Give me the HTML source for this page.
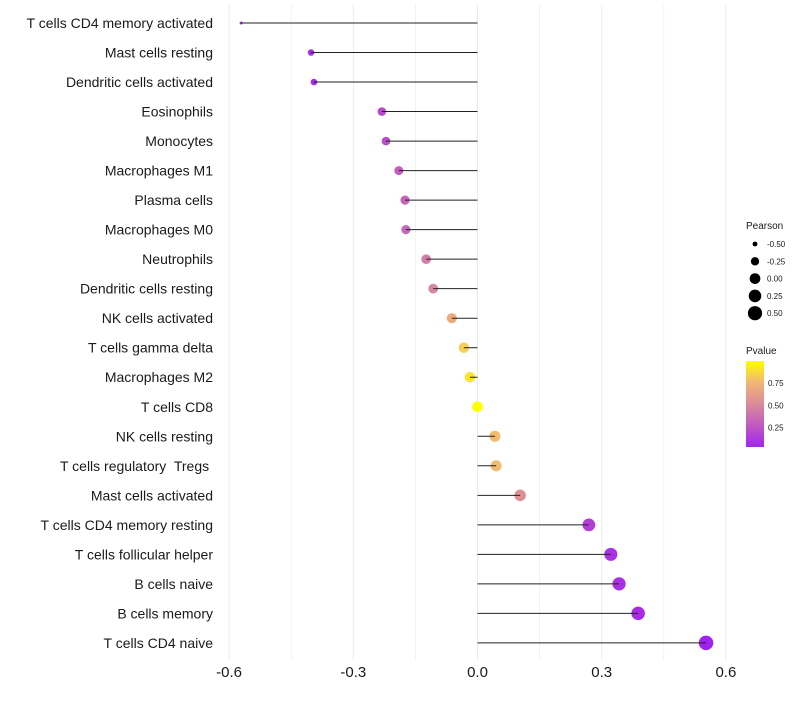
<!DOCTYPE html>
<html><head><meta charset="utf-8"><style>
body{margin:0;background:#fff;font-family:"Liberation Sans",sans-serif}
text{white-space:pre}
</style></head><body>
<svg id="chart" width="800" height="700" xmlns="http://www.w3.org/2000/svg">
<g id="grid"></g><g id="points"></g><g id="marks"></g><g id="ylabels"></g><g id="xlabels"></g><g id="legend"></g>
</svg>
<script>
const categories=["T cells CD4 memory activated","Mast cells resting","Dendritic cells activated","Eosinophils","Monocytes","Macrophages M1","Plasma cells","Macrophages M0","Neutrophils","Dendritic cells resting","NK cells activated","T cells gamma delta","Macrophages M2","T cells CD8","NK cells resting","T cells regulatory  Tregs ","Mast cells activated","T cells CD4 memory resting","T cells follicular helper","B cells naive","B cells memory","T cells CD4 naive"];
const pearson=[-0.571,-0.402,-0.395,-0.231,-0.221,-0.19,-0.175,-0.173,-0.124,-0.107,-0.062,-0.033,-0.018,0.0,0.042,0.045,0.103,0.269,0.322,0.342,0.388,0.552];
const pvalue=[0.01,0.06,0.06,0.2,0.22,0.3,0.33,0.34,0.45,0.5,0.7,0.85,0.92,1.0,0.78,0.78,0.55,0.15,0.08,0.07,0.05,0.008];
const xTicks=[-0.6,-0.3,0,0.3,0.6];
const xTickLabels=["-0.6","-0.3","0.0","0.3","0.6"];
const sizeLegend=[-0.5,-0.25,0,0.25,0.5];
const sizeLegendLabels=["-0.50","-0.25","0.00","0.25","0.50"];
const pLegend=[0.25,0.5,0.75];
const NS="http://www.w3.org/2000/svg";
const x=v=>477.5+v*414;
const y=i=>23+i*29.52;
const r=v=>0.4+6.4*Math.sqrt(Math.max(v+0.6,0));
function lerp(a,b,t){return a.map((c,i)=>Math.round(c+(b[i]-c)*t));}
function col(p){const s=[[0,[160,32,240]],[0.5,[216,136,156]],[0.8,[245,190,110]],[1,[255,255,0]]];
 for(let k=1;k<s.length;k++){if(p<=s[k][0]){const t=(p-s[k-1][0])/(s[k][0]-s[k-1][0]);const c=lerp(s[k-1][1],s[k][1],t);return `rgb(${c})`;}}return "rgb(255,255,0)";}
function mk(tag,attrs,parent){const e=document.createElementNS(NS,tag);for(const k in attrs)e.setAttribute(k,attrs[k]);document.getElementById(parent).appendChild(e);return e;}
for(let v=-0.6;v<=0.61;v+=0.15){const g=mk("line",{x1:x(v),x2:x(v),y1:5,y2:660,stroke:"#ebebeb","stroke-width":Math.abs(Math.round(v/0.3)*0.3-v)<0.01?1:0.6},"grid");

}
categories.forEach((c,i)=>{
 const d=mk("circle",{cx:x(pearson[i]),cy:y(i),r:r(pearson[i]),fill:col(pvalue[i])},"points");
 
 
 const l=mk("line",{x1:x(0),x2:x(pearson[i]),y1:y(i),y2:y(i),stroke:"#222","stroke-width":1},"marks");
 
 
 const t=mk("text",{x:213,y:y(i)+5,"text-anchor":"end","font-size":14,fill:"#1a1a1a"},"ylabels");
 t.textContent=c;
 
 
});
xTicks.forEach((v,i)=>{const t=mk("text",{x:x(v),y:677,"text-anchor":"middle","font-size":15,fill:"#1a1a1a"},"xlabels");t.textContent=xTickLabels[i];

});
const lt=mk("text",{x:746,y:229,"font-size":10,fill:"#1a1a1a"},"legend");lt.textContent="Pearson";


sizeLegend.forEach((v,i)=>{const cy=244+i*17.3;
 const c=mk("circle",{cx:755,cy:cy,r:r(v),fill:"#000"},"legend");
 
 
 const t=mk("text",{x:767,y:cy+3,"font-size":8,fill:"#1a1a1a"},"legend");t.textContent=sizeLegendLabels[i];
 
 });
const pt=mk("text",{x:746,y:354,"font-size":10,fill:"#1a1a1a"},"legend");pt.textContent="Pvalue";


const defs=mk("defs",{},"legend");
const lg=document.createElementNS(NS,"linearGradient");lg.setAttribute("id","pg");lg.setAttribute("x1","0");lg.setAttribute("y1","1");lg.setAttribute("x2","0");lg.setAttribute("y2","0");defs.appendChild(lg);
[0,0.25,0.5,0.75,1].forEach(s=>{const st=document.createElementNS(NS,"stop");st.setAttribute("offset",s);st.setAttribute("stop-color",col(0.03+s*0.97));lg.appendChild(st);});
const bar=mk("rect",{x:746,y:361,width:18,height:86,fill:"url(#pg)"},"legend");


const py=p=>447-(p-0.03)/0.97*86;
pLegend.forEach(p=>{const t=mk("text",{x:768,y:py(p)+3,"font-size":8,fill:"#1a1a1a"},"legend");t.textContent=p.toFixed(2);

});
</script>
</body></html>
